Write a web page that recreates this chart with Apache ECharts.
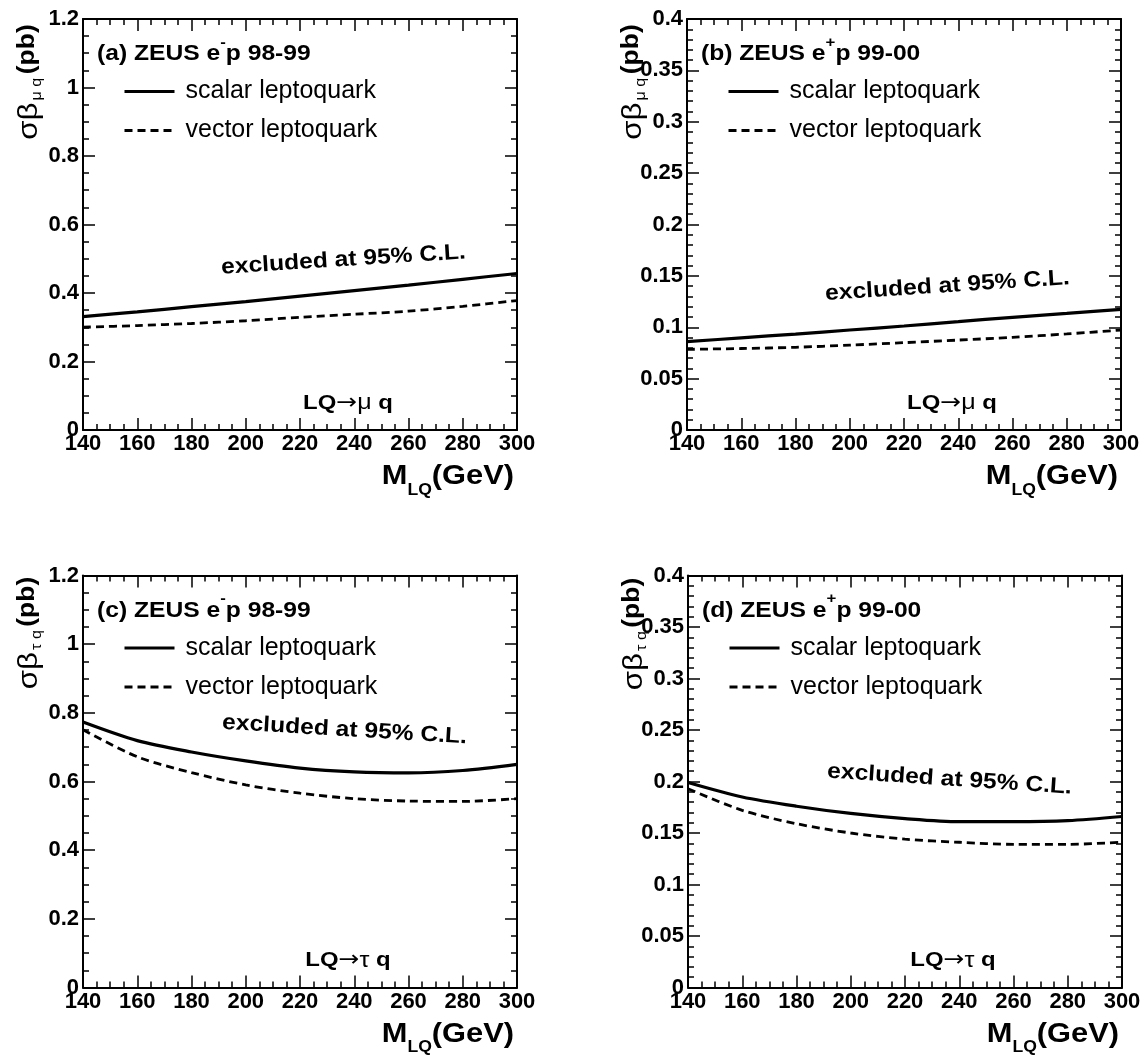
<!DOCTYPE html>
<html><head><meta charset="utf-8">
<script src="https://cdn.jsdelivr.net/npm/echarts@6/dist/echarts.min.js"></script>
<style>html,body{margin:0;padding:0;background:#fff}#c{width:1148px;height:1057px}</style>
</head><body><div id="c"></div>
<script>
// ---- data ----
const massGeV = [140, 160, 180, 200, 220, 240, 260, 280, 300];
const scalarMuEminus = [0.331, 0.345, 0.360, 0.375, 0.391, 0.407, 0.423, 0.440, 0.457];
const vectorMuEminus = [0.300, 0.305, 0.311, 0.319, 0.329, 0.338, 0.347, 0.361, 0.378];
const scalarMuEplus  = [0.0860, 0.0897, 0.0934, 0.0973, 0.1012, 0.1054, 0.1097, 0.1135, 0.1174];
const vectorMuEplus  = [0.0785, 0.0793, 0.0805, 0.0826, 0.0850, 0.0875, 0.0902, 0.0935, 0.0973];
const scalarTauEminus = [0.773, 0.719, 0.686, 0.660, 0.639, 0.628, 0.625, 0.632, 0.650];
const vectorTauEminus = [0.751, 0.672, 0.626, 0.590, 0.566, 0.550, 0.543, 0.542, 0.550];
const scalarTauEplus  = [0.199, 0.185, 0.176, 0.169, 0.164, 0.161, 0.161, 0.162, 0.166];
const vectorTauEplus  = [0.193, 0.172, 0.159, 0.150, 0.144, 0.141, 0.139, 0.139, 0.141];

const seriesNames = ['scalar leptoquark', 'vector leptoquark'];
const panelTags = ['(a)', '(b)', '(c)', '(d)'];
const beamCharges = ['-', '+', '-', '+'];
const runPeriods = ['98-99', '99-00', '98-99', '99-00'];
const leptons = ['μ', 'μ', 'τ', 'τ'];
const xRange = [140, 300];
const yRanges = [[0, 1.2], [0, 0.4], [0, 1.2], [0, 0.4]];
const yIntervals = [0.2, 0.05, 0.2, 0.05];
const yMinorSplits = [4, 5, 4, 5];
const scalarSets = [scalarMuEminus, scalarMuEplus, scalarTauEminus, scalarTauEplus];
const vectorSets = [vectorMuEminus, vectorMuEplus, vectorTauEminus, vectorTauEplus];

// ---- layout ----
const FONT = 'Liberation Sans';
const PW = 434;
const panels = [
  {left: 83,  top: 19,    h: 411, ex: [343.5, 260], exRot: 0.063,  yTitleY: 82},
  {left: 687, top: 19,    h: 411, ex: [947.5, 286], exRot: 0.065,  yTitleY: 82},
  {left: 83,  top: 575.5, h: 412, ex: [344.5, 730], exRot: -0.060, yTitleY: 633},
  {left: 688, top: 575.5, h: 412, ex: [949.5, 779.5], exRot: -0.066, yTitleY: 634}
];

const black = '#000';
const grids = [], xAxes = [], yAxes = [], series = [], legends = [], graphics = [];

function axisCommon() {
  return {
    axisLine: {show: true, onZero: false, lineStyle: {color: black, width: 2}},
    axisTick: {show: true, inside: true, length: 12, lineStyle: {color: black, width: 1.5}},
    splitLine: {show: false},
    minorSplitLine: {show: false}
  };
}

panels.forEach((p, i) => {
  grids.push({left: p.left, top: p.top, width: PW, height: p.h, containLabel: false, outerBoundsMode: 'none'});
  ['bottom', 'top'].forEach(pos => {
    xAxes.push(Object.assign(axisCommon(), {
      type: 'value', gridIndex: i, position: pos, min: xRange[0], max: xRange[1], interval: 20,
      minorTick: {show: true, splitNumber: 4, length: 6, lineStyle: {color: black, width: 1.5}},
      axisLabel: {show: pos === 'bottom', color: black, fontFamily: FONT, fontWeight: 'bold', fontSize: 22, margin: 3}
    }));
  });
  ['left', 'right'].forEach(pos => {
    yAxes.push(Object.assign(axisCommon(), {
      type: 'value', gridIndex: i, position: pos, min: yRanges[i][0], max: yRanges[i][1], interval: yIntervals[i],
      minorTick: {show: true, splitNumber: yMinorSplits[i], length: 6, lineStyle: {color: black, width: 1.5}},
      axisLabel: {show: pos === 'left', color: black, fontFamily: FONT, fontWeight: 'bold', fontSize: 22, margin: 4}
    }));
  });
  [scalarSets[i], vectorSets[i]].forEach((vals, k) => {
    series.push({
      type: 'line', name: seriesNames[k], xAxisIndex: 2 * i, yAxisIndex: 2 * i,
      data: massGeV.map((m, j) => [m, vals[j]]),
      smooth: 0.3, symbol: 'none', showSymbol: false, silent: true, animation: false,
      lineStyle: {color: black, width: k === 0 ? 3.2 : 2.8, type: k === 0 ? 'solid' : [8, 5]},
      itemStyle: {color: black}
    });
  });
  legends.push({
    show: true, orient: 'vertical', left: p.left + 40, top: p.top + 57.5, padding: 0,
    itemWidth: 50, itemHeight: 20, itemGap: 9, selectedMode: false,
    data: seriesNames,
    itemStyle: {opacity: 0},
    lineStyle: {width: 3},
    textStyle: {fontFamily: FONT, fontSize: 25, color: black, lineHeight: 30, padding: [0, 0, 0, 6]}
  });

  // panel title
  graphics.push({
    type: 'text', x: p.left + 14, y: p.top + 31, scaleX: 1.12, silent: true,
    style: {
      text: '{m|' + panelTags[i] + ' ZEUS e}{s|' + beamCharges[i] + '}{m|p ' + runPeriods[i] + '}',
      align: 'left', verticalAlign: 'middle', fill: black,
      rich: {
        m: {fontFamily: FONT, fontWeight: 'bold', fontSize: 22, lineHeight: 30, verticalAlign: 'bottom', fill: black},
        s: {fontFamily: FONT, fontWeight: 'bold', fontSize: 15, lineHeight: 14, verticalAlign: 'top', fill: black}
      }
    }
  });
  // excluded annotation
  graphics.push({
    type: 'text', x: p.ex[0], y: p.ex[1], rotation: p.exRot, scaleX: 1.12, silent: true,
    style: {text: 'excluded at 95% C.L.', fontFamily: FONT, fontWeight: 'bold', fontSize: 22,
            align: 'center', verticalAlign: 'middle', fill: black}
  });
  // decay channel
  graphics.push({
    type: 'text', x: p.left + 265, y: p.top + p.h - 27, scaleX: 1.14, silent: true,
    style: {
      text: '{b|LQ}{a|→}{n|' + leptons[i] + '}{b| q}', align: 'center', verticalAlign: 'middle', fill: black,
      rich: {
        b: {fontFamily: FONT, fontWeight: 'bold', fontSize: 21, fill: black},
        a: {fontFamily: 'DejaVu Sans', fontSize: 22, fill: black},
        n: {fontFamily: FONT, fontSize: 22, fill: black}
      }
    }
  });
  // y axis title (rotated)
  graphics.push({
    type: 'text', x: p.left - 67, y: p.yTitleY, rotation: Math.PI / 2, scaleX: 1.15, silent: true,
    style: {
      text: '{g|σβ}{s|' + leptons[i] + ' q}{b|(pb)}', align: 'center', verticalAlign: 'top', fill: black,
      rich: {
        g: {fontFamily: FONT, fontSize: 27, lineHeight: 26, verticalAlign: 'top', fill: black},
        s: {fontFamily: FONT, fontSize: 14, lineHeight: 28, verticalAlign: 'bottom', padding: [0, 3, 0, 2], fill: black},
        b: {fontFamily: FONT, fontWeight: 'bold', fontSize: 23, lineHeight: 26, verticalAlign: 'top', fill: black}
      }
    }
  });
  // x axis title
  graphics.push({
    type: 'text', x: p.left + PW - 3, y: p.top + p.h + 32.5, scaleX: 1.1, silent: true,
    style: {
      text: '{m|M}{s|LQ}{m|(GeV)}', align: 'right', verticalAlign: 'top', fill: black,
      rich: {
        m: {fontFamily: FONT, fontWeight: 'bold', fontSize: 28, lineHeight: 28, verticalAlign: 'top', fill: black},
        s: {fontFamily: FONT, fontWeight: 'bold', fontSize: 16, lineHeight: 36, verticalAlign: 'bottom', fill: black}
      }
    }
  });
});

const chart = echarts.init(document.getElementById('c'), null, {renderer: 'canvas'});
chart.setOption({
  animation: false,
  backgroundColor: '#fff',
  textStyle: {fontFamily: FONT},
  grid: grids, xAxis: xAxes, yAxis: yAxes, series: series, legend: legends,
  graphic: graphics
});
</script>
</body></html>
